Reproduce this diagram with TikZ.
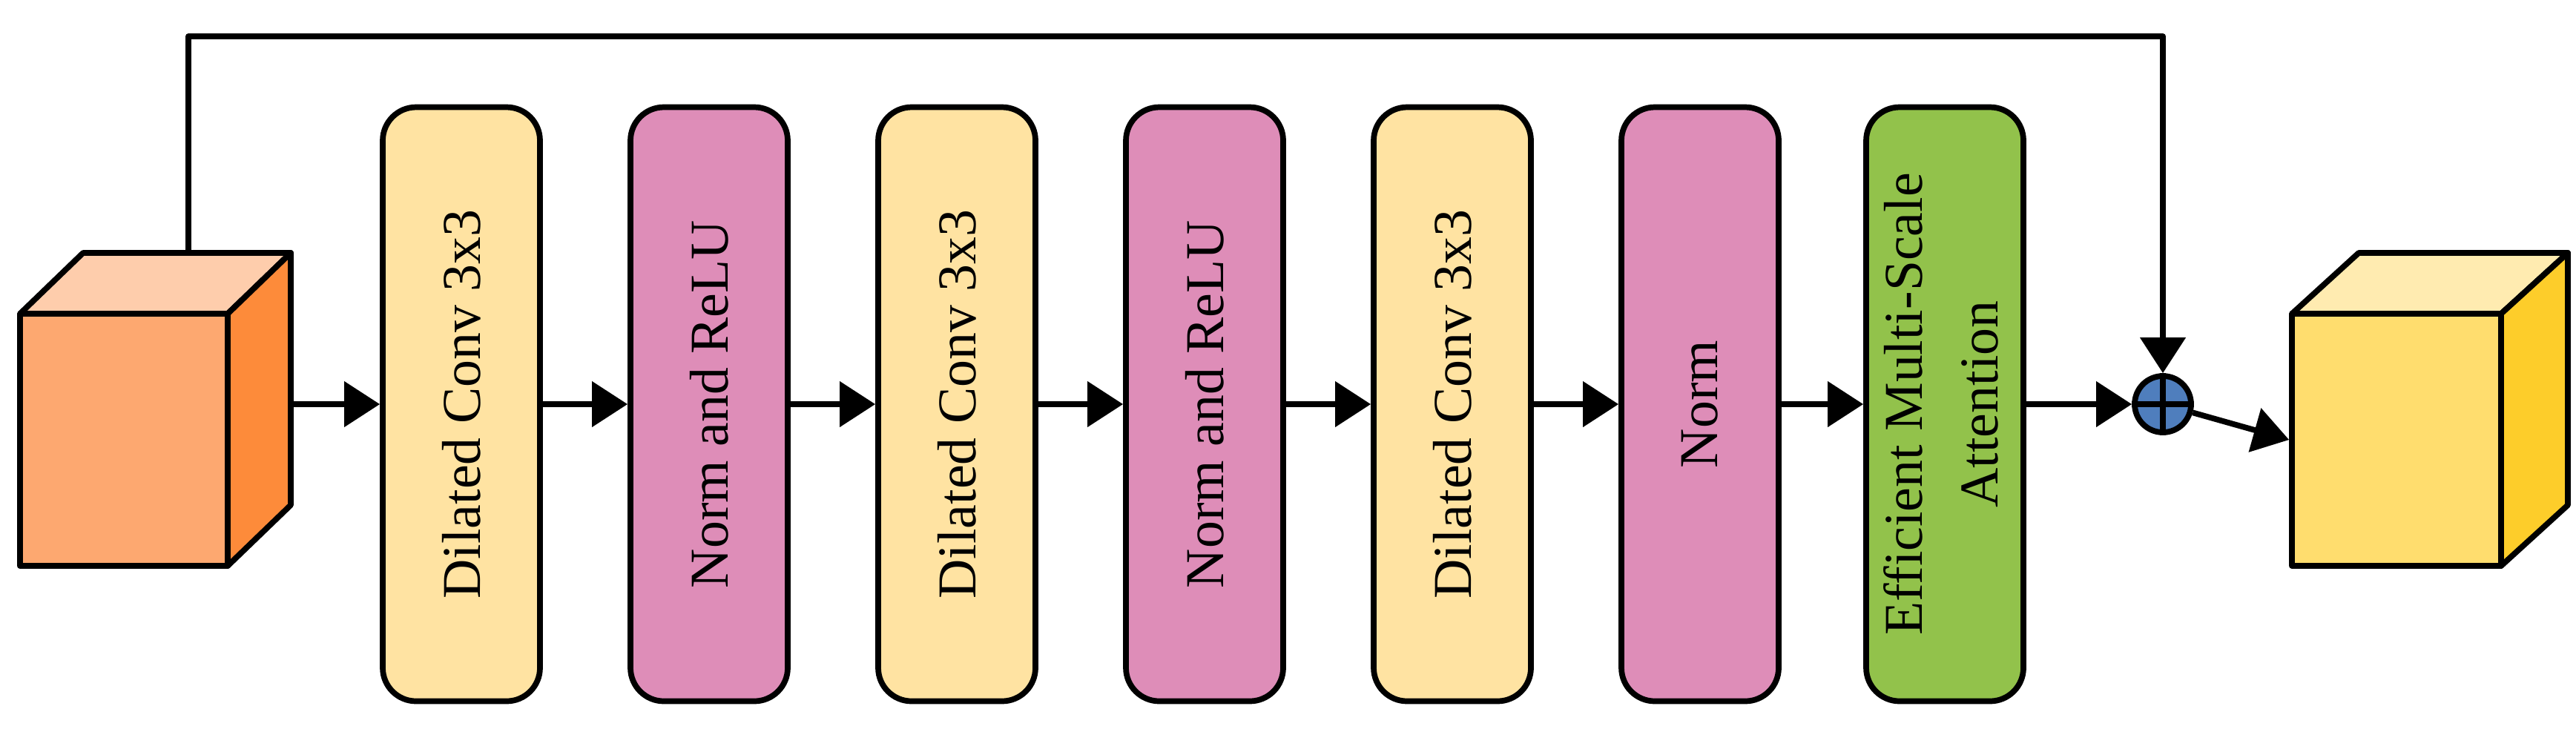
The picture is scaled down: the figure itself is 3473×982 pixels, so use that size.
\documentclass[tikz,border=0pt]{standalone}
\usepackage{fontspec}
\setmainfont{Liberation Serif}
\usetikzlibrary{arrows.meta}
\definecolor{cyel}{HTML}{FFE3A2}
\definecolor{cpink}{HTML}{DE8DB8}
\definecolor{cgreen}{HTML}{92C24B}
\definecolor{cblue}{HTML}{4F7EBD}
\begin{document}
\begin{tikzpicture}[x=0.1mm,y=-0.1mm,line width=2.2pt,line join=round,
  blk/.style={draw,rounded corners=4.5mm,minimum width=21.2mm,minimum height=80.1mm,inner sep=0pt,font=\fontsize{21}{29}\selectfont},
  arr/.style={-{Triangle[length=4.8mm,width=6mm]}}]
\useasboundingbox (0,0) rectangle (3473,982);
% input cube
\fill[fill={rgb,255:red,254;green,205;blue,172}] (27,423) -- (112,341) -- (392,341) -- (307,423) -- cycle;
\draw (27,423) -- (112,341) -- (392,341) -- (307,423);
\draw[fill={rgb,255:red,253;green,139;blue,58}] (307,423) -- (392,341) -- (392,681) -- (307,763) -- cycle;
\node[draw,fill={rgb,255:red,253;green,168;blue,112},minimum width=28mm,minimum height=34mm,inner sep=0pt] (in) at (167,593) {};
\coordinate (inr) at (392,545);
\coordinate (intop) at (254,341);
% blocks
\node[blk,fill=cyel]  (b1) at (622,545) {\rotatebox{90}{Dilated Conv 3x3}};
\node[blk,fill=cpink] (b2) at (956,545) {\rotatebox{90}{Norm and ReLU}};
\node[blk,fill=cyel]  (b3) at (1290,545) {\rotatebox{90}{Dilated Conv 3x3}};
\node[blk,fill=cpink] (b4) at (1624,545) {\rotatebox{90}{Norm and ReLU}};
\node[blk,fill=cyel]  (b5) at (1958,545) {\rotatebox{90}{Dilated Conv 3x3}};
\node[blk,fill=cpink] (b6) at (2292,545) {\rotatebox{90}{Norm}};
\node[blk,fill=cgreen] (b7) at (2622,545) {\rotatebox{90}{\begin{tabular}{@{}c@{}}Efficient Multi-Scale\\Attention\end{tabular}}};
% sum
\node[draw,circle,fill=cblue,minimum size=7.6mm,inner sep=0pt] (s) at (2916,545) {};
\draw (s.north) -- (s.south) (s.west) -- (s.east);
% output cube
\fill[fill={rgb,255:red,255;green,235;blue,176}] (3090,423) -- (3180,341) -- (3462,341) -- (3372,423) -- cycle;
\draw (3090,423) -- (3180,341) -- (3462,341) -- (3372,423);
\draw[fill={rgb,255:red,253;green,205;blue,42}] (3372,423) -- (3462,341) -- (3462,681) -- (3372,763) -- cycle;
\node[draw,fill={rgb,255:red,255;green,221;blue,110},minimum width=28.2mm,minimum height=34mm,inner sep=0pt] (out) at (3231,593) {};
% connectors
\draw[arr] (inr) -- (b1.west);
\draw[arr] (b1) -- (b2);
\draw[arr] (b2) -- (b3);
\draw[arr] (b3) -- (b4);
\draw[arr] (b4) -- (b5);
\draw[arr] (b5) -- (b6);
\draw[arr] (b6) -- (b7);
\draw[arr] (b7) -- (s);
\draw[arr] (s) -- (out.west);
\draw[arr] (intop) -- (254,49) -| (s.north);
\end{tikzpicture}
\end{document}
